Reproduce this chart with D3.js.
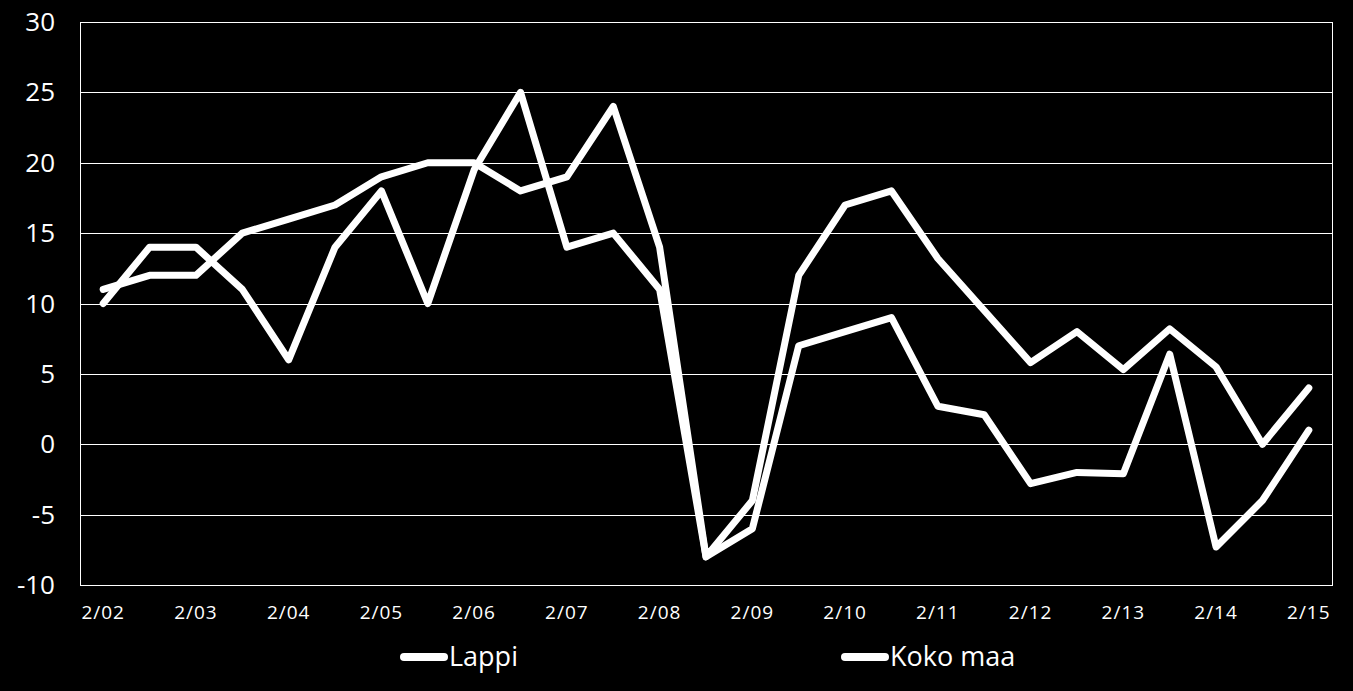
<!DOCTYPE html>
<html lang="fi">
<head>
    <meta charset="UTF-8">
    <title>Lappi / Koko maa</title>
    <script src="https://d3js.org/d3.v7.min.js"></script>
    <style>
        body {
            margin: 0;
            background-color: #000;
            overflow: hidden;
        }

        .grid line {
            stroke: #fff;
            stroke-width: 1;
        }

        .y-label {
            fill: #fff;
            font-family: "Open Sans", sans-serif;
            font-size: 26px;
        }

        .x-label {
            fill: #fff;
            font-family: "Open Sans", sans-serif;
            font-size: 19px;
            letter-spacing: 1px;
        }

        .series {
            fill: none;
            stroke: #fff;
            stroke-width: 7;
            stroke-linejoin: round;
            stroke-linecap: round;
        }

        .legend-text {
            fill: #fff;
            font-family: "Open Sans", sans-serif;
            font-size: 27px;
        }
    </style>
</head>
<body>
    <svg id="chart"></svg>

    <script>
        // half-year periods 2/02 ... 2/15
        const periods = [
            "2/02", "8/02", "2/03", "8/03", "2/04", "8/04", "2/05", "8/05", "2/06",
            "8/06", "2/07", "8/07", "2/08", "8/08", "2/09", "8/09", "2/10", "8/10",
            "2/11", "8/11", "2/12", "8/12", "2/13", "8/13", "2/14", "8/14", "2/15"
        ];
        const tickLabels = [
            "2/02", "2/03", "2/04", "2/05", "2/06", "2/07", "2/08",
            "2/09", "2/10", "2/11", "2/12", "2/13", "2/14", "2/15"
        ];

        const lappi = [
            10, 14, 14, 11, 6, 14, 18, 10, 19.5,
            25, 14, 15, 11, -8, -6, 7, 8, 9,
            2.7, 2.1, -2.8, -2, -2.1, 6.4, -7.3, -4, 1
        ];
        const kokoMaa = [
            11, 12, 12, 15, 16, 17, 19, 20, 20,
            18, 19, 24, 14, -8, -4, 12, 17, 18,
            13.2, 9.5, 5.8, 8, 5.3, 8.2, 5.5, 0, 4
        ];

        const seriesNames = ["Lappi", "Koko maa"];
        const yTicks = [-10, -5, 0, 5, 10, 15, 20, 25, 30];

        const width = 1353;
        const height = 691;
        const margin = { top: 22, right: 21, bottom: 106, left: 80 };

        const svg = d3.select('#chart')
            .attr('width', width)
            .attr('height', height);

        const x = d3.scaleBand()
            .domain(periods)
            .range([margin.left, width - margin.right])
            .padding(0);

        const y = d3.scaleLinear()
            .domain([-10, 30])
            .range([height - margin.bottom, margin.top]);

        // horizontal grid
        svg.append('g')
            .attr('class', 'grid')
            .selectAll('line')
            .data(yTicks)
            .join('line')
            .attr('x1', margin.left)
            .attr('x2', width - margin.right)
            .attr('y1', d => Math.round(y(d)) + 0.5)
            .attr('y2', d => Math.round(y(d)) + 0.5);

        // plot frame
        svg.append('rect')
            .attr('x', margin.left + 0.5)
            .attr('y', Math.round(y(30)) + 0.5)
            .attr('width', width - margin.right - margin.left)
            .attr('height', Math.round(y(-10)) - Math.round(y(30)))
            .attr('fill', 'none')
            .attr('stroke', '#fff')
            .attr('stroke-width', 1);

        // y labels
        svg.append('g')
            .selectAll('text')
            .data(yTicks)
            .join('text')
            .attr('class', 'y-label')
            .attr('x', 55)
            .attr('y', d => y(d))
            .attr('dy', '0.35em')
            .attr('text-anchor', 'end')
            .text(d => d);

        // x labels
        svg.append('g')
            .selectAll('text')
            .data(tickLabels)
            .join('text')
            .attr('class', 'x-label')
            .attr('x', d => x(d) + x.bandwidth() / 2)
            .attr('y', 612)
            .attr('dy', '0.35em')
            .attr('text-anchor', 'middle')
            .text(d => d);

        const line = d3.line()
            .x((d, i) => x(periods[i]) + x.bandwidth() / 2)
            .y(d => y(d));

        svg.append('path')
            .datum(lappi)
            .attr('class', 'series')
            .attr('d', line);

        svg.append('path')
            .datum(kokoMaa)
            .attr('class', 'series')
            .attr('d', line);

        // legend
        const legendX = [404, 845];
        const legend = svg.append('g')
            .selectAll('g')
            .data(seriesNames)
            .join('g')
            .attr('transform', (d, i) => `translate(${legendX[i]}, 657)`);

        legend.append('line')
            .attr('x1', 0)
            .attr('x2', 40)
            .attr('stroke', '#fff')
            .attr('stroke-width', 8)
            .attr('stroke-linecap', 'round');

        legend.append('text')
            .attr('class', 'legend-text')
            .attr('x', 45)
            .attr('y', 9)
            .text(d => d);
    </script>
</body>
</html>
